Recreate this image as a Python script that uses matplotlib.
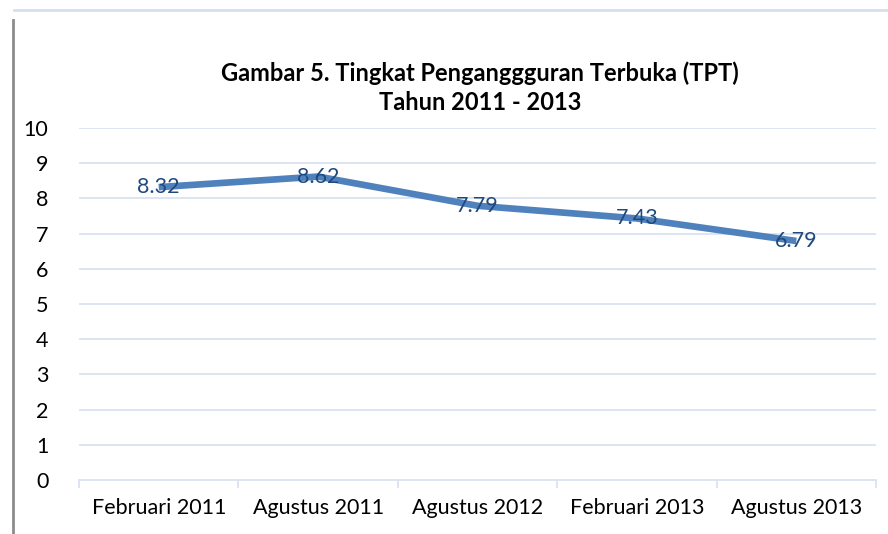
import matplotlib.pyplot as plt
from matplotlib.lines import Line2D
import numpy as np

# data
periods = ["Februari 2011", "Agustus 2011", "Agustus 2012", "Februari 2013", "Agustus 2013"]
tpt = [8.32, 8.62, 7.79, 7.43, 6.79]
labels = ["8.32", "8.62", "7.79", "7.43", "6.79"]

plt.rcParams['font.family'] = ['Lato', 'DejaVu Sans']

fig = plt.figure(figsize=(8.88, 5.34), dpi=100)
ax = fig.add_axes([79/888, 54/534, 797/888, 352/534])

x = np.arange(len(periods))
grid_c = '#D9E3F0'

for v in range(1, 11):
    ax.axhline(v, color=grid_c, linewidth=1.3, zorder=1)

ax.plot(x, tpt, color='#4F81BD', linewidth=4.8, solid_capstyle='butt', zorder=2)
for xi, yi, lab in zip(x, tpt, labels):
    ax.text(xi, yi, lab, ha='center', va='center', fontsize=15.5, color='#1F497D', zorder=3)

ax.set_xlim(-0.5, len(periods) - 0.5)
ax.set_ylim(0, 10)
ax.set_yticks(range(0, 11))
ax.set_xticks(x)
ax.set_xticklabels(periods)
ax.set_xticks(np.arange(-0.5, len(periods)), minor=True)
ax.tick_params(axis='x', which='major', length=0, pad=13, labelsize=15.5)
ax.tick_params(axis='x', which='minor', length=6, color=grid_c, width=1.3)
ax.tick_params(axis='y', length=0, pad=22, labelsize=15.5)

for s in ['top', 'right', 'left']:
    ax.spines[s].set_visible(False)
ax.spines['bottom'].set_color(grid_c)
ax.spines['bottom'].set_linewidth(1.3)

fig.text(480/888, 1 - 73/534, "Gambar 5. Tingkat Penganggguran Terbuka (TPT)",
         ha='center', va='center', fontsize=17, fontweight='bold')
fig.text(480/888, 1 - 103/534, "Tahun 2011 - 2013",
         ha='center', va='center', fontsize=17, fontweight='bold')

# frame lines
fig.add_artist(Line2D([14/888, 1], [1 - 10/534, 1 - 10/534], color='#D5E0EE', linewidth=2))
fig.add_artist(Line2D([12.5/888, 12.5/888], [0, 1 - 20/534], color='#8C8C8C', linewidth=2))

fig.savefig('out.png', dpi=100)
